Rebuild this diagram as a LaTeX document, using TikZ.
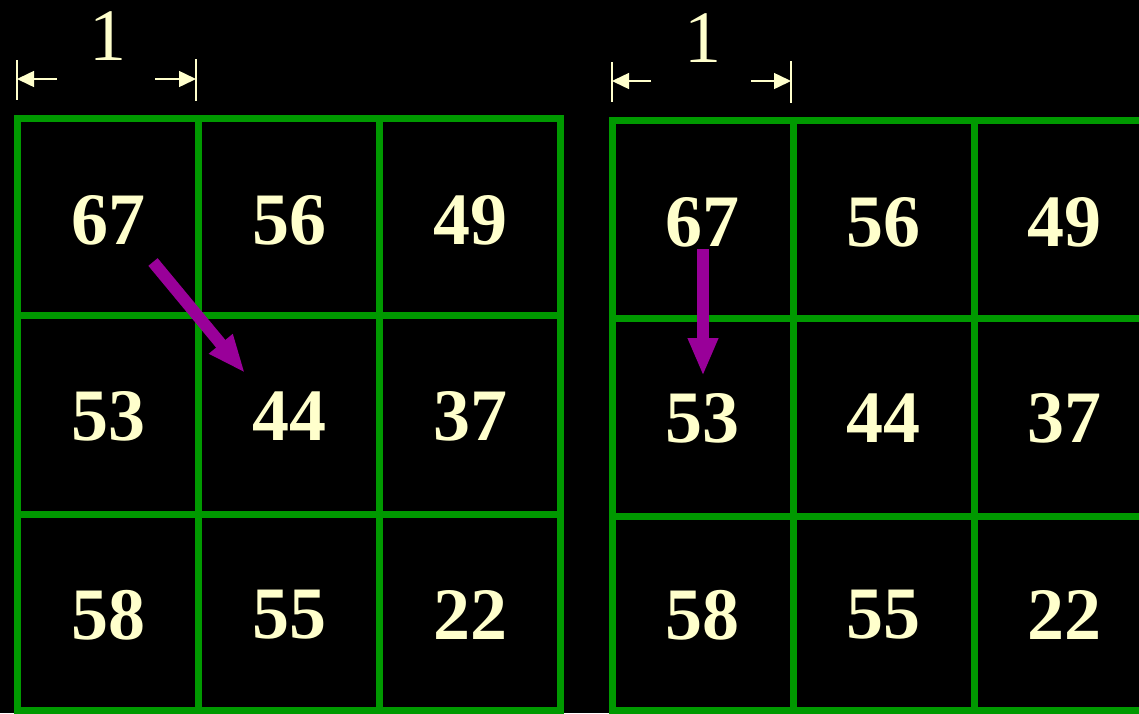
\documentclass[tikz,border=0pt]{standalone}
\usepackage{fontspec}
\setmainfont{Liberation Serif}
\usetikzlibrary{arrows.meta}
\definecolor{gridgreen}{HTML}{009900}
\definecolor{numyellow}{HTML}{FFFFCC}
\definecolor{arrowpurple}{HTML}{990099}
\begin{document}
\begin{tikzpicture}[x=1pt,y=-1pt,
  gridline/.style={draw=gridgreen,line width=7pt},
  num/.style={text=numyellow,font=\fontsize{74}{74}\selectfont\bfseries,inner sep=0pt,anchor=center},
  dimtext/.style={text=numyellow,font=\fontsize{74}{74}\selectfont,inner sep=0pt,anchor=base},
  dimtick/.style={draw=numyellow,line width=1.5pt},
  dimarrow/.style={draw=numyellow,line width=1.5pt,-{Triangle[length=17pt,width=16pt]}},
  movearrow/.style={draw=arrowpurple,line width=12pt,-{Triangle[length=38pt,width=28pt]}}]
\useasboundingbox (0,0) rectangle (1139,713);
\fill[black] (0,0) rectangle (1139,713);
\clip (0,0) rectangle (1139,713);
% left grid
\draw[gridline] (17,118) rectangle (560,710);
\draw[gridline] (198,118) -- (198,710);
\draw[gridline] (379,118) -- (379,710);
\draw[gridline] (17,315) -- (560,315);
\draw[gridline] (17,514) -- (560,514);
% right grid
\draw[gridline] (612,120) rectangle (1155,710);
\draw[gridline] (793,120) -- (793,710);
\draw[gridline] (974,120) -- (974,710);
\draw[gridline] (612,318) -- (1160,318);
\draw[gridline] (612,516) -- (1160,516);
% numbers left
\node[num] (L67) at (108,220) {67};
\node[num] (L56) at (289,220) {56};
\node[num] (L49) at (470,220) {49};
\node[num] (L53) at (108,416) {53};
\node[num] (L44) at (289,416) {44};
\node[num] (L37) at (470,416) {37};
\node[num] (L58) at (108,615) {58};
\node[num] (L55) at (289,615) {55};
\node[num] (L22) at (470,615) {22};
% numbers right
\node[num] (R67) at (702,222) {67};
\node[num] (R56) at (883,222) {56};
\node[num] (R49) at (1064,222) {49};
\node[num] (R53) at (702,418) {53};
\node[num] (R44) at (883,418) {44};
\node[num] (R37) at (1064,418) {37};
\node[num] (R58) at (702,615) {58};
\node[num] (R55) at (883,615) {55};
\node[num] (R22) at (1064,615) {22};
% dimension left
\node[dimtext] (dimL) at (108,60) {1};
\coordinate (dLa) at (17,60);
\coordinate (dLb) at (17,100);
\coordinate (dLc) at (196,59);
\coordinate (dLd) at (196,101);
\coordinate (dLs1) at (57,79);
\coordinate (dLe1) at (17,79);
\coordinate (dLs2) at (155,79);
\coordinate (dLe2) at (196,79);
\draw[dimtick] (dLa) -- (dLb);
\draw[dimtick] (dLc) -- (dLd);
\draw[dimarrow] (dLs1) -- (dLe1);
\draw[dimarrow] (dLs2) -- (dLe2);
% dimension right
\node[dimtext] (dimR) at (703,62) {1};
\coordinate (dRa) at (612,62);
\coordinate (dRb) at (612,102);
\coordinate (dRc) at (791,61);
\coordinate (dRd) at (791,103);
\coordinate (dRs1) at (651,81);
\coordinate (dRe1) at (612,81);
\coordinate (dRs2) at (751,81);
\coordinate (dRe2) at (791,81);
\draw[dimtick] (dRa) -- (dRb);
\draw[dimtick] (dRc) -- (dRd);
\draw[dimarrow] (dRs1) -- (dRe1);
\draw[dimarrow] (dRs2) -- (dRe2);
% purple arrows
\coordinate (pLs) at (153,262);
\coordinate (pLe) at (245,373);
\coordinate (pRs) at (703,249);
\coordinate (pRe) at (703,376);
\draw[movearrow] (pLs) -- (pLe);
\draw[movearrow] (pRs) -- (pRe);
\end{tikzpicture}
\end{document}
